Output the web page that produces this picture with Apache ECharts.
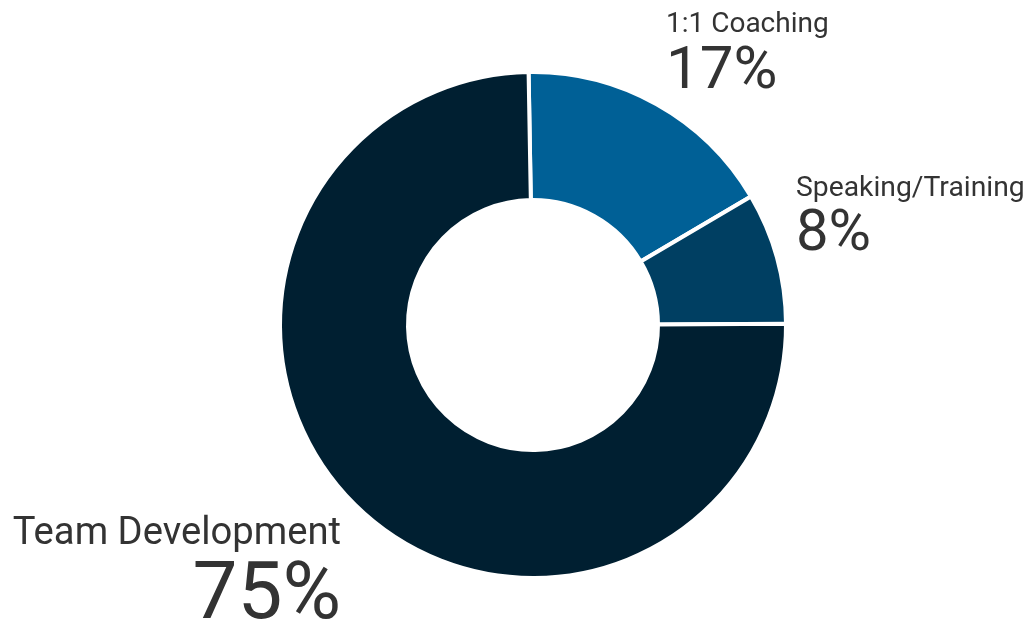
<!DOCTYPE html>
<html>
<head>
<meta charset="utf-8">
<script src="https://cdn.jsdelivr.net/npm/echarts@6/dist/echarts.min.js"></script>
<style>
  html, body { margin: 0; padding: 0; background: #fff; }
  #main { width: 1031px; height: 623px; }
</style>
</head>
<body>
<div id="main"></div>
<script>
const categories = ['1:1 Coaching', 'Speaking/Training', 'Team Development']
const values = [16.8, 8.4, 74.8]
const colors = ['#006096', '#003f62', '#001f31']

// label placement and sizes per slice
const labelPos = [
    { x: 666, y: 9, align: 'left' },
    { x: 796, y: 173, align: 'left' },
    { x: 341, y: 512, align: 'right' }
]
const nameSizes = [28, 28.3, 38.2]
const valueSizes = [60, 58, 80]

const chart = echarts.init(document.getElementById('main'))

const data = categories.map((name, i) => ({
    name: name,
    value: values[i],
    itemStyle: { color: colors[i] },
    label: {
        align: labelPos[i].align,
        rich: {
            n: { fontSize: nameSizes[i], lineHeight: nameSizes[i] * 1.15, color: '#333', fontFamily: 'Roboto', align: labelPos[i].align },
            v: { fontSize: valueSizes[i], lineHeight: valueSizes[i] * 1.05, color: '#333', fontFamily: 'Roboto', align: labelPos[i].align }
        }
    }
}))

const option = {
    animation: false,
    series: [{
        type: 'pie',
        center: [533, 325],
        radius: [125, 253],
        startAngle: 91,
        clockwise: true,
        percentPrecision: 0,
        itemStyle: { borderColor: '#fff', borderWidth: 4 },
        label: {
            show: true,
            position: 'outside',
            overflow: 'none',
            width: 500,
            formatter: '{n|{b}}\n{v|{d}%}'
        },
        labelLine: { show: false },
        labelLayout: function (params) {
            const p = labelPos[params.dataIndex]
            return { x: p.x, y: p.y, align: p.align, verticalAlign: 'top', hideOverlap: false, moveOverlap: false }
        },
        emphasis: { disabled: true },
        data: data
    }]
}

chart.setOption(option)
</script>
</body>
</html>
